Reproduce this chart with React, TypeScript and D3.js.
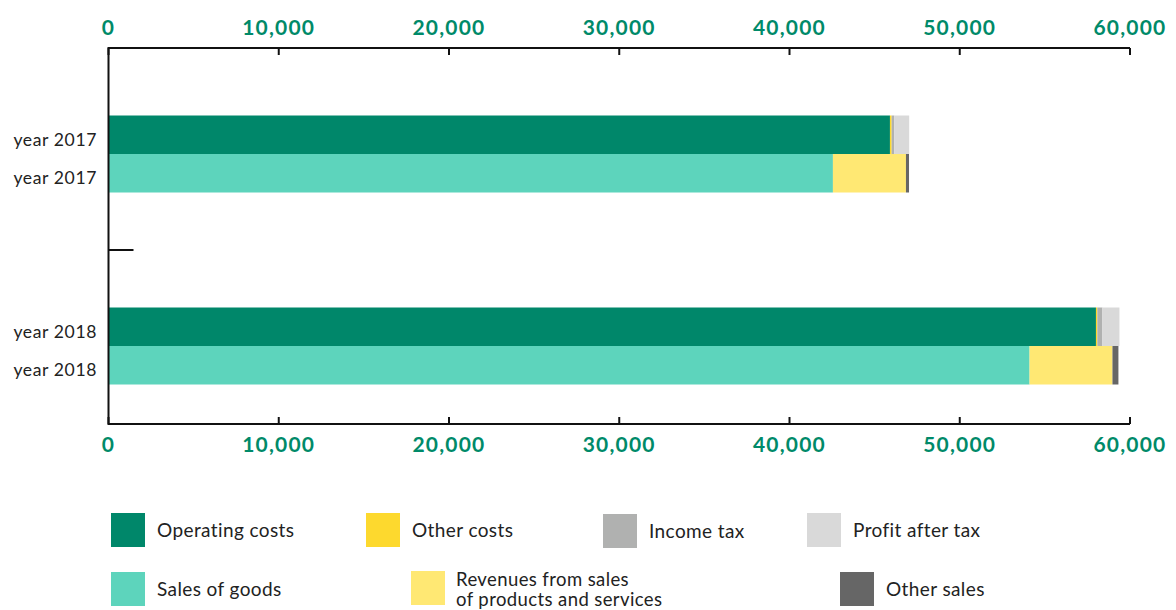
import React from "react";
import * as d3 from "d3";

const years = ["2017", "2018"];
const costSeries = ["Operating costs", "Other costs", "Income tax", "Profit after tax"];
const revenueSeries = ["Sales of goods", "Revenues from sales of products and services", "Other sales"];
const costValues2017 = [45900, 100, 150, 880];
const costValues2018 = [58000, 80, 300, 1000];
const revenueValues2017 = [42550, 4290, 180];
const revenueValues2018 = [54100, 4870, 350];
const xTicks = [0, 10000, 20000, 30000, 40000, 50000, 60000];

const costColors = ["#00876a", "#fdd92e", "#b0b1b0", "#d9d9d9"];
const revenueColors = ["#5dd4bc", "#ffe873", "#666666"];

const W = 1176;
const H = 610;

export default function App() {
  const x = d3.scaleLinear().domain([0, 60000]).range([108.5, 1130]);
  const yGroup = d3.scalePoint<string>().domain(years).range([154, 346]);
  const barH = 38.5;
  const fmt = d3.format(",");
  const top = 48;
  const bottom = 424;

  const rows = [
    { year: "2017", vals: costValues2017, colors: costColors, off: -barH },
    { year: "2017", vals: revenueValues2017, colors: revenueColors, off: 0 },
    { year: "2018", vals: costValues2018, colors: costColors, off: -barH },
    { year: "2018", vals: revenueValues2018, colors: revenueColors, off: 0 },
  ];

  const sepY = ((yGroup("2017") as number) + (yGroup("2018") as number)) / 2;

  const legend = [
    { label: [costSeries[0]], color: costColors[0], x: 111, y: 513 },
    { label: [costSeries[1]], color: costColors[1], x: 366, y: 513 },
    { label: [costSeries[2]], color: costColors[2], x: 603, y: 514 },
    { label: [costSeries[3]], color: costColors[3], x: 807, y: 513 },
    { label: [revenueSeries[0]], color: revenueColors[0], x: 111, y: 572 },
    { label: ["Revenues from sales", "of products and services"], color: revenueColors[1], x: 411, y: 571 },
    { label: [revenueSeries[2]], color: revenueColors[2], x: 840, y: 572 },
  ];

  return (
    <div style={{ position: "absolute", left: 0, top: 0 }}>
      <svg width={W} height={H} style={{ display: "block", fontFamily: "Lato, 'Open Sans', sans-serif" }}>
        <rect width={W} height={H} fill="#fff" />
        {rows.map((r, i) => {
          const y0 = (yGroup(r.year) as number) + r.off;
          let acc = 0;
          return (
            <g key={i}>
              {r.vals.map((v, j) => {
                const x0 = x(acc);
                acc += v;
                const x1 = x(acc);
                return <rect key={j} x={x0} y={y0} width={x1 - x0} height={barH} fill={r.colors[j]} />;
              })}
              <text x={97} y={y0 + barH / 2 + 11} textAnchor="end" fontSize={17.6} letterSpacing={0.6} fill="#222">
                year {r.year}
              </text>
            </g>
          );
        })}
        {/* axes */}
        <line x1={x(0)} x2={x(60000)} y1={top} y2={top} stroke="#111" strokeWidth={2} />
        <line x1={x(0)} x2={x(60000)} y1={bottom} y2={bottom} stroke="#111" strokeWidth={2} />
        <line x1={x(0)} x2={x(0)} y1={top - 1} y2={bottom + 1} stroke="#111" strokeWidth={2} />
        <line x1={x(0)} x2={x(0) + 25} y1={sepY} y2={sepY} stroke="#111" strokeWidth={2} />
        {xTicks.map((t) => (
          <g key={t}>
            <line x1={x(t)} x2={x(t)} y1={top} y2={top + 7} stroke="#111" strokeWidth={2} />
            <line x1={x(t)} x2={x(t)} y1={bottom} y2={bottom - 7} stroke="#111" strokeWidth={2} />
            <text x={x(t)} y={35} textAnchor="middle" fontSize={21} fontWeight={700} letterSpacing={1.2} fill="#008a69">
              {fmt(t)}
            </text>
            <text x={x(t)} y={452} textAnchor="middle" fontSize={21} fontWeight={700} letterSpacing={1.2} fill="#008a69">
              {fmt(t)}
            </text>
          </g>
        ))}
        {/* legend */}
        {legend.map((l, i) => (
          <g key={i}>
            <rect x={l.x} y={l.y} width={34} height={34} fill={l.color} />
            {l.label.length === 1 ? (
              <text x={l.x + 46} y={l.y + 23.5} fontSize={19} letterSpacing={0.4} fill="#222">
                {l.label[0]}
              </text>
            ) : (
              <g>
                <text x={l.x + 45} y={l.y + 14.5} fontSize={18.5} letterSpacing={0.4} fill="#222">
                  {l.label[0]}
                </text>
                <text x={l.x + 45} y={l.y + 35} fontSize={18.5} letterSpacing={0.4} fill="#222">
                  {l.label[1]}
                </text>
              </g>
            )}
          </g>
        ))}
      </svg>
    </div>
  );
}
